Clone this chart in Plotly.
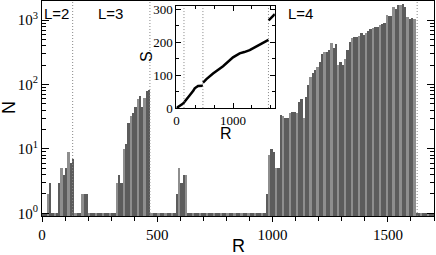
import plotly.graph_objects as go

# ---- main histogram data: N(R), R binned in steps of 10 (bin centres) ----
R_bins = [5 + 10 * i for i in range(170)]
N_counts = [
    1, 1, 2, 3, 1, 1, 1, 3, 5, 4,
    5, 9, 6, 7, 1, 1, 1, 2, 2, 2,
    1, 1, 1, 1, 1, 1, 1, 1, 1, 1,
    1, 1, 3, 4, 3, 10, 12, 25, 32, 36,
    45, 60, 66, 45, 62, 80, 82, 1, 1, 1,
    1, 1, 1, 1, 1, 1, 1, 1, 2, 5,
    3, 4, 4, 1, 1, 1, 1, 1, 1, 1,
    1, 1, 1, 1, 1, 1, 1, 1, 1, 1,
    1, 1, 1, 1, 1, 1, 1, 1, 1, 1,
    1, 1, 1, 1, 1, 1, 1, 2, 8, 10,
    9, 5, 5, 34, 32, 30, 30, 36, 38, 38,
    36, 54, 60, 30, 65, 98, 132, 150, 165, 185,
    220, 300, 320, 320, 345, 436, 363, 420, 200, 225,
    200, 250, 340, 450, 530, 550, 540, 560, 620, 590,
    640, 680, 720, 750, 790, 780, 850, 880, 900, 1200,
    1150, 1150, 1580, 1500, 1700, 1700, 1750, 1600, 1100, 1050,
    1080, 1050, 1, 1, 1, 1, 1, 1, 1, 1,
]

# ---- inset data: S(R) ----
S_R = [0, 20, 60, 118, 160, 235, 300, 323, 382, 430, 468, None,
       470, 530, 647, 824, 1000, 1118, 1200, 1295, 1400, 1472, 1560, 1627, None,
       1630, 1680, 1740]
S_vals = [0, 3, 7, 14, 22, 39, 53, 60, 67, 68, 68, None,
          77, 88, 105, 127, 154, 166, 170, 176, 186, 193, 201, 207, None,
          266, 276, 285]

# ---- shell boundaries and labels ----
L_bounds = [133, 468, 1627]
L_labels = ["L=2", "L=3", "L=4"]
L_label_R = [64, 296, 1120]

y_tickvals = [1, 10, 100, 1000]
y_ticktext = ["10<sup>0</sup>", "10<sup>1</sup>", "10<sup>2</sup>", "10<sup>3</sup>"]
y_minor = [m * 10 ** d for d in range(4) for m in range(2, 10)]

dark, light = "#5c5c5c", "#8e8e8e"
bar_colors = [light if i % 3 == 2 else dark for i in range(len(R_bins))]

serif = "Liberation Serif, Times New Roman, serif"
sans = "Liberation Sans, Arial, sans-serif"

W, H = 436, 255
ML, MR, MT, MB = 42, 2, 1, 39
PW, PH = W - ML - MR, H - MT - MB


def px(x):
    return (x - ML) / PW


def py(y):
    return (H - MB - y) / PH


fig = go.Figure()
fig.add_trace(go.Bar(x=R_bins, y=N_counts, width=10,
                     marker=dict(color=bar_colors, line=dict(width=0)),
                     xaxis="x", yaxis="y", showlegend=False))
fig.add_trace(go.Scatter(x=S_R, y=S_vals, mode="lines", connectgaps=False,
                         line=dict(color="black", width=2.5),
                         xaxis="x2", yaxis="y2", showlegend=False))

dot = dict(color="#888888", width=1, dash="1px,2px")
shapes = []
for b in L_bounds:
    shapes.append(dict(type="line", xref="x", yref="y domain", x0=b, x1=b, y0=0, y1=1,
                       line=dot, layer="above"))
    shapes.append(dict(type="line", xref="x2", yref="y2 domain", x0=b, x1=b, y0=0, y1=1,
                       line=dot, layer="above"))

annotations = []
for lab, rx in zip(L_labels, L_label_R):
    annotations.append(dict(x=rx, y=py(13), xref="x", yref="paper", yanchor="middle",
                            xanchor="center", text=lab, showarrow=False,
                            font=dict(family=sans, size=15, color="black")))
# axis titles
annotations.append(dict(x=px(238), y=py(246), xref="paper", yref="paper", text="R",
                        showarrow=False, xanchor="center", yanchor="middle",
                        font=dict(family=sans, size=18, color="black")))
annotations.append(dict(x=px(9), y=py(108), xref="paper", yref="paper", text="N",
                        showarrow=False, xanchor="center", yanchor="middle", textangle=-90,
                        font=dict(family=sans, size=18, color="black")))
annotations.append(dict(x=px(226), y=py(133), xref="paper", yref="paper", text="R",
                        showarrow=False, xanchor="center", yanchor="middle",
                        font=dict(family=sans, size=16, color="black")))
annotations.append(dict(x=px(146), y=py(57), xref="paper", yref="paper", text="S",
                        showarrow=False, xanchor="center", yanchor="middle", textangle=-90,
                        font=dict(family=sans, size=16, color="black")))

fig.update_layout(
    width=W, height=H,
    margin=dict(l=ML, r=MR, t=MT, b=MB),
    paper_bgcolor="white", plot_bgcolor="white",
    bargap=0,
    showlegend=False,
    shapes=shapes,
    annotations=annotations,
    xaxis=dict(domain=[0, 1], range=[0, 1700], anchor="y", automargin=False,
               tickvals=[0, 500, 1000, 1500], ticks="outside", ticklen=5, tickcolor="black",
               minor=dict(dtick=100, tick0=0, ticks="outside", ticklen=4, tickcolor="black"),
               showline=True, linecolor="black", linewidth=1, mirror=True,
               showgrid=False, zeroline=False,
               tickfont=dict(family=serif, size=15, color="black")),
    yaxis=dict(domain=[0, 1], type="log", range=[-0.042, 3.296], anchor="x", automargin=False,
               tickvals=y_tickvals, ticktext=y_ticktext,
               ticks="inside", ticklen=7, tickcolor="black",
               minor=dict(tickvals=y_minor, ticks="inside", ticklen=4, tickcolor="black"),
               showline=True, linecolor="black", linewidth=1, mirror="ticks",
               showgrid=False, zeroline=False,
               tickfont=dict(family=serif, size=15, color="black")),
    xaxis2=dict(domain=[0.343, 0.594], range=[0, 1740], anchor="y2", automargin=False,
                tickvals=[0, 1000], ticks="inside", ticklen=5, tickcolor="black",
                minor=dict(tickvals=[333, 667, 1333, 1667], ticks="inside", ticklen=3, tickcolor="black"),
                showline=True, linecolor="black", linewidth=1, mirror="ticks",
                showgrid=False, zeroline=False,
                tickfont=dict(family=serif, size=13, color="black")),
    yaxis2=dict(domain=[0.502, 0.977], range=[0, 310], anchor="x2", automargin=False,
                tickvals=[0, 100, 200, 300], ticks="inside", ticklen=5, tickcolor="black",
                minor=dict(dtick=50, tick0=0, ticks="inside", ticklen=3, tickcolor="black"),
                showline=True, linecolor="black", linewidth=1, mirror="ticks",
                showgrid=False, zeroline=False,
                tickfont=dict(family=serif, size=13, color="black")),
)

fig.write_html("out.html", config={"displayModeBar": False},
               post_script="document.body.style.margin='0';document.body.style.overflow='hidden';")
